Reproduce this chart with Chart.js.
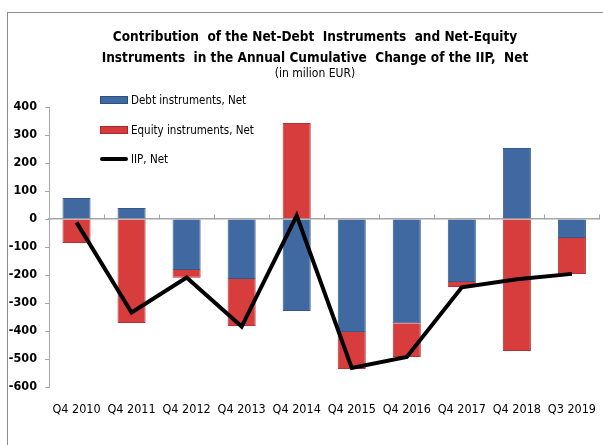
<!DOCTYPE html>
<html>
<head>
<meta charset="utf-8">
<script src="https://cdn.jsdelivr.net/npm/chart.js@4/dist/chart.umd.min.js"></script>
<style>
  html, body { margin: 0; padding: 0; background: #fff; overflow: hidden; }
  #wrap { position: relative; width: 603px; height: 445px; overflow: hidden; font-family: "DejaVu Sans Condensed", "DejaVu Sans", sans-serif; }
  #lineTop { position: absolute; left: 7px; top: 12px; width: 596px; height: 1px; background: #8c8c8c; }
  #lineLeft { position: absolute; left: 7px; top: 12px; width: 1px; height: 433px; background: #8c8c8c; }
  #title { position: absolute; left: 90px; width: 450px; top: 26px; text-align: center; font-weight: bold; font-size: 13.5px; line-height: 21px; color: #000; white-space: pre; }
  #sub { position: absolute; left: 115px; width: 400px; top: 66px; text-align: center; font-size: 12px; color: #000; }
  .leg { position: absolute; left: 100px; font-size: 11.5px; color: #000; height: 14px; line-height: 14px; }
  .leg span.sw { position: absolute; left: 0; top: 3px; width: 28px; height: 8px; }
  .leg span.tx { position: absolute; left: 31px; top: 0; white-space: nowrap; }
  canvas { position: absolute; left: 0; top: 0; }
</style>
</head>
<body>
<div id="wrap">
  <div id="lineTop"></div>
  <div id="lineLeft"></div>
  <canvas id="chart" width="603" height="445"></canvas>
  <div id="title">Contribution  of the Net-Debt  Instruments  and Net-Equity
Instruments  in the Annual Cumulative  Change of the IIP,  Net</div>
  <div id="sub">(in milion EUR)</div>
  <div class="leg" style="top:93px"><span class="sw" style="background:#3f69a0;border:1px solid #2d4f7c;box-sizing:border-box"></span><span class="tx">Debt instruments, Net</span></div>
  <div class="leg" style="top:123px"><span class="sw" style="background:#d63b3b;border:1px solid #a52a2a;box-sizing:border-box"></span><span class="tx">Equity instruments, Net</span></div>
  <div class="leg" style="top:152px"><span class="sw" style="background:#000;height:4px;top:5px;border-radius:2px"></span><span class="tx">IIP, Net</span></div>
</div>
<script>
// категории и ряды
const periods = ['Q4 2010', 'Q4 2011', 'Q4 2012', 'Q4 2013', 'Q4 2014', 'Q4 2015', 'Q4 2016', 'Q4 2017', 'Q4 2018', 'Q3 2019'];
const debtNet = [75, 39, -182, -214, -329, -404, -372, -225, 254, -68];
const equityNet = [-86, -371, -28, -168, 343, -132, -121, -18, -471, -128];
const iipNet = [-12, -334, -209, -384, 12, -532, -493, -244, -215, -196];

function barFill(base, edge) {
  return function (ctx) {
    const meta = ctx.chart.getDatasetMeta(ctx.datasetIndex);
    const el = meta.data[ctx.dataIndex];
    if (!el || !el.width) return base;
    const g = ctx.chart.ctx.createLinearGradient(el.x - el.width / 2, 0, el.x + el.width / 2, 0);
    g.addColorStop(0, edge);
    g.addColorStop(0.15, base);
    g.addColorStop(0.85, base);
    g.addColorStop(1, edge);
    return g;
  };
}

new Chart(document.getElementById('chart'), {
  type: 'bar',
  data: {
    labels: periods,
    datasets: [
      {
        label: 'Debt instruments, Net',
        data: debtNet,
        backgroundColor: barFill('#3f69a0', '#2f5283'),
        borderColor: '#35598a',
        borderWidth: 1,
        stack: 'bars',
        order: 2
      },
      {
        label: 'Equity instruments, Net',
        data: equityNet,
        backgroundColor: barFill('#d83d3d', '#b12e2e'),
        borderColor: '#b53232',
        borderWidth: 1,
        stack: 'bars',
        order: 2
      },
      {
        type: 'line',
        label: 'IIP, Net',
        data: iipNet,
        borderColor: '#000',
        borderWidth: 4,
        pointRadius: 0,
        tension: 0,
        stack: 'line',
        order: 1
      }
    ]
  },
  options: {
    responsive: false,
    animation: false,
    layout: { padding: { top: 107, right: -6, bottom: 28, left: 0 } },
    datasets: { bar: { categoryPercentage: 1, barPercentage: 0.51 } },
    plugins: { legend: { display: false }, title: { display: false }, tooltip: { enabled: false } },
    scales: {
      x: {
        position: { y: 0 },
        stacked: true,
        ticks: { display: false },
        grid: { drawOnChartArea: false, drawTicks: true, tickLength: -5, color: '#a6a6a6', offset: true },
        border: { color: '#a6a6a6', width: 1.5 }
      },
      x2: {
        position: 'bottom',
        labels: periods,
        offset: true,
        grid: { display: false },
        border: { display: false },
        ticks: { color: '#000', font: { family: 'DejaVu Sans Condensed', size: 12.5 }, padding: 7, maxRotation: 0, autoSkip: false },
        afterFit: s => { s.height = 30; }
      },
      y: {
        stacked: true,
        min: -600,
        max: 400,
        ticks: { stepSize: 100, color: '#000', padding: 8, font: { family: 'DejaVu Sans Condensed', size: 12.5, weight: 'bold' } },
        grid: { drawOnChartArea: false, drawTicks: true, tickLength: 4, color: '#a6a6a6' },
        border: { color: '#a6a6a6' },
        afterFit: s => { s.width = 49; }
      }
    }
  }
});
</script>
</body>
</html>
